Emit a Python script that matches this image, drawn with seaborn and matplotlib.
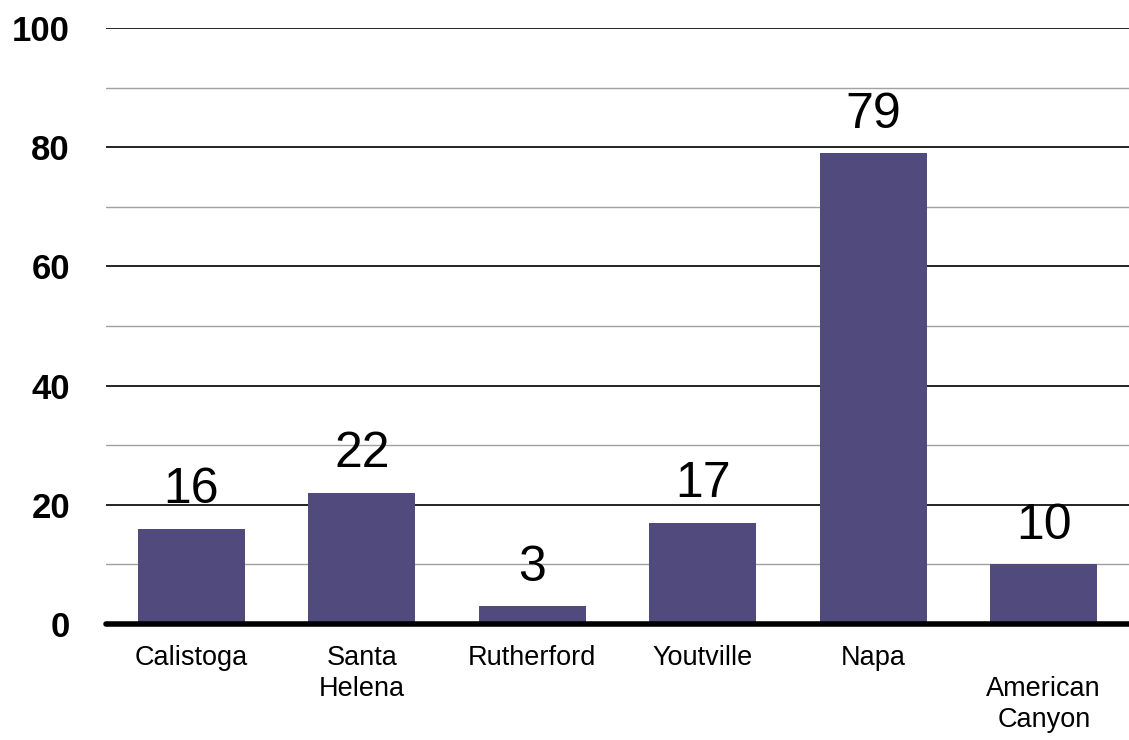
import matplotlib
matplotlib.use('Agg')
import matplotlib.pyplot as plt
import seaborn as sns
import pandas as pd

# Data
towns = ['Calistoga', 'Santa\nHelena', 'Rutherford', 'Youtville', 'Napa', '\nAmerican\nCanyon']
counts = [16, 22, 3, 17, 79, 10]
y_ticks = [0, 20, 40, 60, 80, 100]

df = pd.DataFrame({'town': towns, 'count': counts})

sns.set_style("white")
plt.rcParams['font.family'] = ['Liberation Sans', 'DejaVu Sans']

fig = plt.figure(figsize=(11.29, 7.40), dpi=100)
ax = fig.add_axes([0.0939, 0.1568, 0.9061, 0.8054])

# Gridlines: dark at major ticks, grey in between
for v in range(10, 101, 20):
    ax.axhline(v, color='#a0a0a0', lw=1.0, zorder=0)
for v in y_ticks[1:]:
    ax.axhline(v, color='#111111', lw=1.3, zorder=0)

sns.barplot(data=df, x='town', y='count', color='#504A7D', saturation=1,
            width=0.63, linewidth=0, ax=ax, zorder=2)

for i, v in enumerate(counts):
    ax.text(i, v + 2.6, str(v), ha='center', va='bottom', fontsize=36, color='black')

ax.axhline(0, color='black', lw=4, zorder=3, clip_on=False)

ax.set_xlim(-0.5, len(towns) - 0.5)
ax.set_ylim(0, 100)
ax.set_yticks(y_ticks)
ax.set_yticklabels([str(t) for t in y_ticks], fontsize=25, fontweight='bold')
ax.tick_params(axis='y', length=0, pad=26, labelcolor='black')
ax.tick_params(axis='x', length=0, pad=15, labelsize=19.5, labelcolor='black')
for lab in ax.get_xticklabels():
    lab.set_linespacing(1.25)
ax.set_xlabel('')
ax.set_ylabel('')
sns.despine(ax=ax, left=True, bottom=True, top=True, right=True)

fig.savefig('out.png', dpi=100)
